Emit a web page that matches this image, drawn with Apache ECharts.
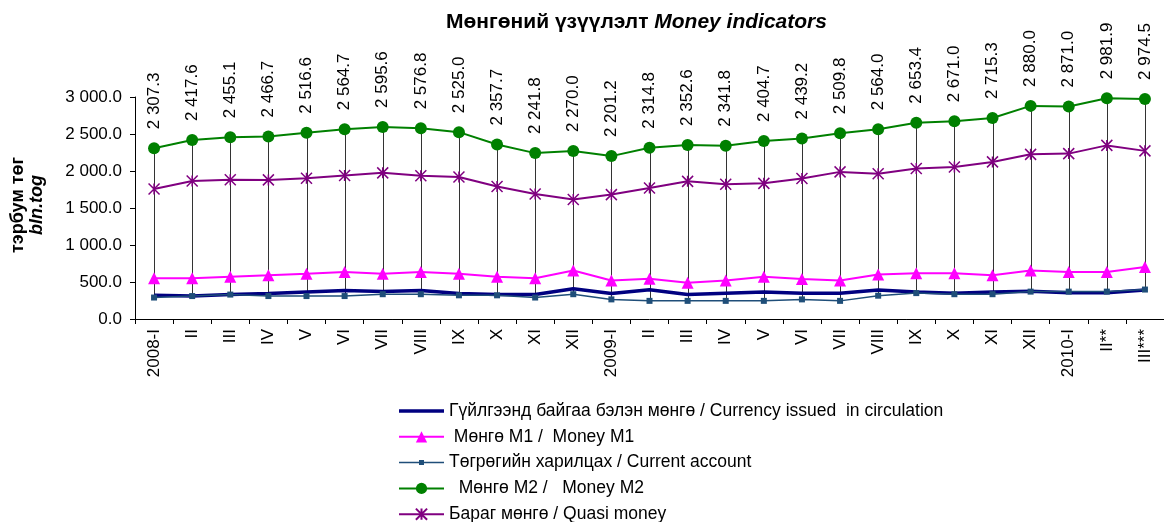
<!DOCTYPE html>
<html>
<head>
<meta charset="utf-8">
<script src="https://cdn.jsdelivr.net/npm/echarts@6/dist/echarts.min.js"></script>
<style>html,body{margin:0;padding:0;background:#fff}#c{width:1164px;height:522px}</style>
</head>
<body>
<div id="c"></div>
<script>
const categories = ['2008-I','II','III','IV','V','VI','VII','VIII','IX','X','XI','XII',
  '2009-I','II','III','IV','V','VI','VII','VIII','IX','X','XI','XII',
  '2010-I','II**','III***'];
const currency = [320,310,330,345,365,385,370,385,345,330,330,410,
  345,395,330,348,365,348,348,393,365,348,365,375,
  356,356,393];
const moneyM1 = [550,550,572,590,612,635,612,635,612,572,550,655,
  520,545,490,520,572,540,520,600,618,618,592,655,
  636,636,702];
const currentAccount = [290,310,330,310,310,310,335,335,320,320,290,335,
  265,245,245,245,245,265,245,315,350,335,335,370,
  370,370,398];
const moneyM2 = [2307.3,2417.6,2455.1,2466.7,2516.6,2564.7,2595.6,2576.8,2525.0,2357.7,2241.8,2270.0,
  2201.2,2314.8,2352.6,2341.8,2404.7,2439.2,2509.8,2564.0,2653.4,2671.0,2715.3,2880.0,
  2871.0,2981.9,2974.5];
const quasiMoney = [1757,1865,1882,1880,1903,1940,1975,1935,1920,1790,1690,1615,
  1681,1770,1860,1820,1833,1899,1988,1964,2035,2053,2123,2225,
  2235,2346,2272];
const seriesNames = [
  'Гүйлгээнд байгаа бэлэн мөнгө / Currency issued  in circulation',
  ' Мөнгө М1 /  Money M1',
  'Төгрөгийн харилцах / Current account',
  '  Мөнгө М2 /   Money M2',
  'Бараг мөнгө / Quasi money'
];

function fmt(v){
  const s = Number(v).toFixed(1);
  const p = s.split('.');
  return p[0].replace(/\B(?=(\d{3})+(?!\d))/g, ' ') + '.' + p[1];
}
const FONT = '"Liberation Sans", Arial, sans-serif';
const hiLo = categories.map((c,i)=>[i, moneyM2[i], Math.min(currentAccount[i], currency[i])]);
const asterisk = 'path://M0,0L10,10M0,10L10,0M5,0L5,10';

const chart = echarts.init(document.getElementById('c'), null, {renderer:'canvas'});
chart.setOption({
  animation:false,
  backgroundColor:'#fff',
  textStyle:{fontFamily:FONT},
  title:{
    text:'{a|Мөнгөний үзүүлэлт }{b|Money indicators}',
    left:441, top:7,
    textStyle:{rich:{
      a:{fontFamily:FONT,fontSize:21,fontWeight:'bold',color:'#000'},
      b:{fontFamily:FONT,fontSize:21,fontWeight:'bold',fontStyle:'italic',color:'#000'}
    }}
  },
  grid:{left:135, right:0, top:97, bottom:203, outerBoundsMode:'none', containLabel:false},
  xAxis:{
    type:'category', data:categories, boundaryGap:true,
    axisLine:{lineStyle:{color:'#000',width:1}},
    axisTick:{show:true,length:5,lineStyle:{color:'#000'},alignWithLabel:false},
    axisLabel:{rotate:90,color:'#000',fontSize:17,fontFamily:FONT,margin:10,interval:0},
    splitLine:{show:false}
  },
  yAxis:{
    type:'value', min:0, max:3000, interval:500,
    axisLine:{show:true,lineStyle:{color:'#000',width:1}},
    axisTick:{show:true,length:5,lineStyle:{color:'#000'}},
    axisLabel:{color:'#000',fontSize:17,fontFamily:FONT,margin:13,formatter:fmt},
    splitLine:{show:false}
  },
  legend:{
    orient:'vertical', left:398, top:402, height:140, padding:0,
    itemWidth:45, itemHeight:14, itemGap:7.8,
    textStyle:{fontSize:17.5,fontFamily:FONT,color:'#000'},
    data:[
      {name:seriesNames[0], icon:'path://M0,0H45V3.5H0Z'},
      {name:seriesNames[1]},
      {name:seriesNames[2], icon:'path://M0,4.25H45V5.75H0Z M20,2.5H25V7.5H20Z'},
      {name:seriesNames[3]},
      {name:seriesNames[4]}
    ]
  },
  graphic:[
    {type:'text', x:18, y:205, rotation:Math.PI/2,
      style:{text:'тэрбум төг', font:'bold 18px '+FONT, fill:'#000', align:'center', verticalAlign:'middle'}},
    {type:'text', x:37, y:205, rotation:Math.PI/2,
      style:{text:'bln.tog', font:'italic bold 18px '+FONT, fill:'#000', align:'center', verticalAlign:'middle'}}
  ],
  series:[
    {
      type:'custom', name:'hilo', data:hiLo, z:1, silent:true,
      renderItem:function(params, api){
        const p1 = api.coord([api.value(0), api.value(1)]);
        const p2 = api.coord([api.value(0), api.value(2)]);
        return {type:'line', shape:{x1:Math.round(p1[0])+0.5,y1:p1[1],x2:Math.round(p2[0])+0.5,y2:p2[1]},
          style:{stroke:'#333',lineWidth:1}};
      }
    },
    {name:seriesNames[0], type:'line', data:currency, z:3, symbol:'none',
      lineStyle:{color:'#000080',width:3.5}, itemStyle:{color:'#000080'}},
    {name:seriesNames[1], type:'line', data:moneyM1, z:4, symbol:'triangle', symbolSize:12,
      lineStyle:{color:'#FF00FF',width:2}, itemStyle:{color:'#FF00FF'}},
    {name:seriesNames[2], type:'line', data:currentAccount, z:3, symbol:'rect', symbolSize:6,
      lineStyle:{color:'#1F4E79',width:1.5}, itemStyle:{color:'#1F4E79'}},
    {name:seriesNames[3], type:'line', data:moneyM2, z:4, symbol:'circle', symbolSize:12,
      lineStyle:{color:'#008000',width:2}, itemStyle:{color:'#008000'},
      label:{show:true, position:'top', distance:13, rotate:90, align:'left', verticalAlign:'middle',
        color:'#000', fontSize:17, fontFamily:FONT, formatter:function(p){return fmt(p.value);}}},
    {name:seriesNames[4], type:'line', data:quasiMoney, z:4, symbol:asterisk, symbolSize:11,
      lineStyle:{color:'#800080',width:2},
      itemStyle:{color:'#800080', borderColor:'#800080', borderWidth:1.5}}
  ]
});
</script>
</body>
</html>
